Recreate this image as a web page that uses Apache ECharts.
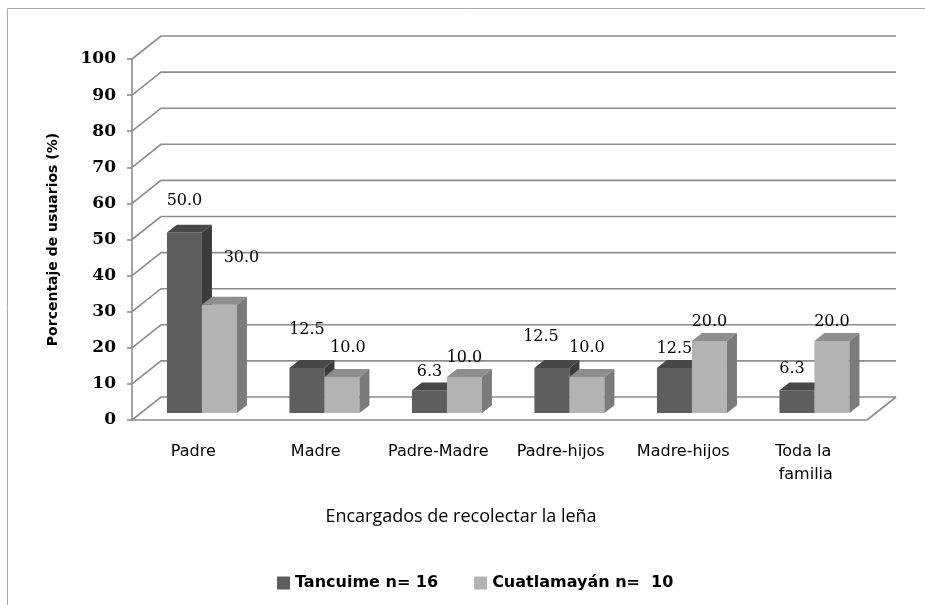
<!DOCTYPE html>
<html>
<head>
<meta charset="utf-8">
<script src="https://cdn.jsdelivr.net/npm/echarts@6/dist/echarts.min.js"></script>
<style>
  html, body { margin: 0; padding: 0; background: #ffffff; }
  #chart { width: 925px; height: 605px; }
</style>
</head>
<body>
<div id="chart"></div>
<script>
// Categories and percentages per community
const categories = ['Padre', 'Madre', 'Padre-Madre', 'Padre-hijos', 'Madre-hijos', 'Toda la familia'];
const tancuime = [50.0, 12.5, 6.3, 12.5, 12.5, 6.3];
const cuatlamayan = [30.0, 10.0, 10.0, 10.0, 20.0, 20.0];
const seriesNames = ['Tancuime n= 16', 'Cuatlamayán n=  10'];
const yTicks = [0, 10, 20, 30, 40, 50, 60, 70, 80, 90, 100];

// Label nudges (px) relative to the default spot above each bar
const tancuimeLabelShift = [[0, -13], [0, -19], [0, 0], [-11, -12], [0, 0], [-5, -3]];
const cuatlamayanLabelShift = [[22, -28], [6, -10], [0, 0], [0, -10], [0, 0], [0, 0]];

// Pseudo-3D geometry
const DX = 29, DY = -23;          // depth of the walls / floor
const FRONT = 0.30;               // bars start this far into the depth
const DEPTH = 0.345;              // bar depth as a fraction of the wall depth
const BAR_FRAC = 0.2857;          // bar width as a fraction of the category band
const GRID_COLOR = '#8c8c8c';

const palette = [
  { front: '#5e5e5e', top: '#474747', side: '#3b3b3b' },
  { front: '#b3b3b3', top: '#8e8e8e', side: '#7b7b7b' }
];

function wallItem(params, api) {
  const cs = params.coordSys;
  const v = api.value(1);
  const y = api.coord([0, v])[1];
  const x0 = cs.x, x1 = cs.x + cs.width;
  const children = [{
    type: 'polyline',
    shape: { points: [[x0, y], [x0 + DX, y + DY], [x1 + DX, y + DY]] },
    style: { stroke: GRID_COLOR, lineWidth: 1.6, fill: null }
  }];
  if (v === 0) {
    children.push({
      type: 'polyline',
      shape: { points: [[x1, y], [x1 + DX, y + DY]] },
      style: { stroke: GRID_COLOR, lineWidth: 1.6, fill: null }
    });
  }
  return { type: 'group', children: children };
}

function makeBarRenderer(seriesIdx, shifts) {
  const col = palette[seriesIdx];
  return function (params, api) {
    const cat = api.value(0);
    const val = api.value(1);
    const base = api.coord([cat, 0]);
    const top = api.coord([cat, val]);
    const band = api.size([1, 0])[0];
    const bw = band * BAR_FRAC;
    const fx = DX * FRONT, fy = DY * FRONT;
    const bdx = DX * DEPTH, bdy = DY * DEPTH;
    const x = base[0] + (seriesIdx === 0 ? -bw : 0) + fx;
    const yb = base[1] + fy;
    const yt = top[1] + fy;
    const sh = shifts[params.dataIndex];
    return {
      type: 'group',
      children: [
        { type: 'rect', shape: { x: x, y: yt, width: bw, height: yb - yt },
          style: { fill: col.front } },
        { type: 'polygon', shape: { points: [[x, yt], [x + bw, yt], [x + bw + bdx, yt + bdy], [x + bdx, yt + bdy]] },
          style: { fill: col.top } },
        { type: 'polygon', shape: { points: [[x + bw, yt], [x + bw + bdx, yt + bdy], [x + bw + bdx, yb + bdy], [x + bw, yb]] },
          style: { fill: col.side } },
        { type: 'text', x: x + bw / 2 + sh[0], y: yt - 19 + sh[1],
          style: { text: val.toFixed(1), align: 'center', verticalAlign: 'middle',
                   font: '16px "DejaVu Serif"', fill: '#000000' }, z2: 10 }
      ]
    };
  };
}

const chart = echarts.init(document.getElementById('chart'), null, { renderer: 'canvas' });

chart.setOption({
  backgroundColor: '#ffffff',
  animation: false,
  grid: { left: 132, right: 58, top: 59, bottom: 185 },
  graphic: [
    { type: 'rect', shape: { x: 7.5, y: 8.5, width: 1200, height: 1200 },
      style: { fill: null, stroke: '#a8a8a8', lineWidth: 1 }, silent: true },
    { type: 'text', x: 461, y: 517,
      style: { text: 'Encargados de recolectar la leña', align: 'center', verticalAlign: 'middle',
               font: '18px "Open Sans"', fill: '#000000' } }
  ],
  legend: {
    data: seriesNames,
    left: 272, top: 570,
    icon: 'rect', itemWidth: 13, itemHeight: 13, itemGap: 36,
    textStyle: { fontFamily: 'DejaVu Sans', fontWeight: 'bold', fontSize: 16, color: '#000000' }
  },
  xAxis: {
    type: 'category',
    data: categories,
    axisLine: { show: true, lineStyle: { color: GRID_COLOR, width: 1.6 } },
    axisTick: { show: false },
    axisLabel: { margin: 20, interval: 0, width: 108, overflow: 'break', lineHeight: 23,
                 fontFamily: 'DejaVu Sans', fontSize: 16, color: '#000000' },
    splitLine: { show: false }
  },
  yAxis: {
    type: 'value',
    min: 0, max: 100, interval: 10,
    name: 'Porcentaje de usuarios (%)',
    nameLocation: 'middle', nameGap: 72,
    nameTextStyle: { fontFamily: 'DejaVu Sans', fontWeight: 'bold', fontSize: 14, color: '#000000' },
    axisLine: { show: true, lineStyle: { color: GRID_COLOR, width: 1.6 } },
    axisTick: { show: true, length: 5, lineStyle: { color: GRID_COLOR, width: 1.6 } },
    axisLabel: { margin: 16, fontFamily: 'DejaVu Serif', fontWeight: 'bold', fontSize: 17, color: '#000000' },
    splitLine: { show: false }
  },
  series: [
    {
      type: 'custom', name: 'walls', silent: true, z: 1,
      renderItem: wallItem,
      data: yTicks.map(function (v) { return [0, v]; })
    },
    {
      type: 'custom', name: seriesNames[0], z: 2,
      itemStyle: { color: palette[0].front },
      renderItem: makeBarRenderer(0, tancuimeLabelShift),
      data: tancuime.map(function (v, i) { return [i, v]; })
    },
    {
      type: 'custom', name: seriesNames[1], z: 3,
      itemStyle: { color: palette[1].front },
      renderItem: makeBarRenderer(1, cuatlamayanLabelShift),
      data: cuatlamayan.map(function (v, i) { return [i, v]; })
    }
  ]
});
</script>
</body>
</html>
